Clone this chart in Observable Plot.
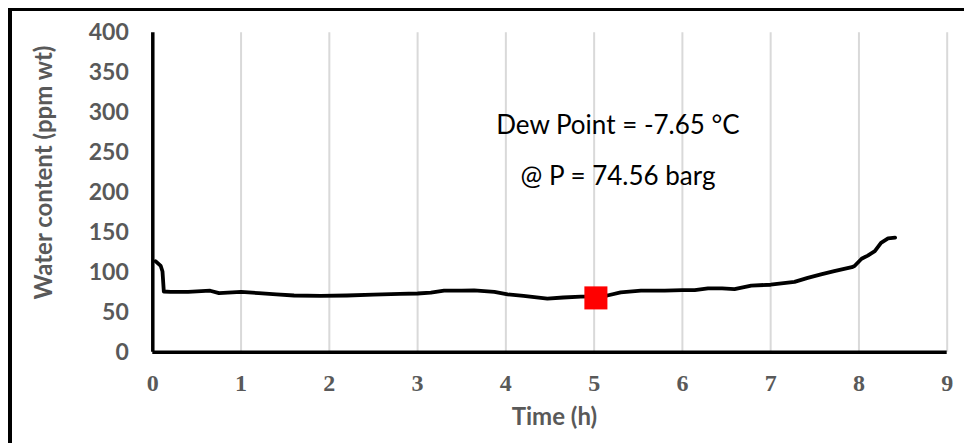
<!DOCTYPE html>
<html>
<head>
<meta charset="utf-8">
<script src="https://cdn.jsdelivr.net/npm/d3@7"></script>
<script src="https://cdn.jsdelivr.net/npm/@observablehq/plot@0.6"></script>
<style>
  html, body { margin: 0; padding: 0; background: #fff; }
  #wrap { position: relative; width: 964px; height: 443px; overflow: hidden; }
  #frame { position: absolute; left: 8px; top: 8px; width: 1000px; height: 500px;
           border-left: 4px solid #000; border-top: 3px solid #000; box-sizing: border-box; }
  #chart { position: absolute; left: 0; top: 0; }
</style>
</head>
<body>
<div id="wrap"><div id="frame"></div><div id="chart"></div></div>
<script>
// Time (h)
const time = [0.03,0.09,0.11,0.125,0.2,0.4,0.55,0.65,0.75,0.9,1.0,1.2,1.4,1.6,1.9,2.2,2.5,2.8,3.0,3.15,3.3,3.5,3.64,3.87,4.02,4.2,4.47,4.65,4.85,5.0,5.15,5.3,5.53,5.8,6.0,6.14,6.29,6.45,6.59,6.78,7.0,7.27,7.42,7.57,7.72,7.92,7.95,8.03,8.1,8.18,8.25,8.33,8.41];
// Water content (ppm wt)
const water = [114,108,101,76,75.5,75.5,76.5,77,74,75,75.5,74,72.5,71,70.5,71,72,73,73.5,74.5,77,77,77.5,75.5,72.5,70.5,67,68.5,69.5,70,71,75,77,77,77.7,77.7,80,80,79,83.5,84.5,88,93,97.4,101.5,106.5,108,117,121,126.6,137,142.6,143.5];
// Dew point marker
const markerTime = [5.02];
const markerWater = [68];
const xTicks = [0,1,2,3,4,5,6,7,8,9];
const yTicks = [0,50,100,150,200,250,300,350,400];
const annotation = ["Dew Point = -7.65 °C", "@ P = 74.56 barg"];

const series = time.map((t, i) => ({t, w: water[i]}));
const marker = markerTime.map((t, i) => ({t, w: markerWater[i]}));

const gray = "#595959";
const chart = Plot.plot({
  width: 964, height: 443,
  marginLeft: 152.3, marginRight: 17.3, marginTop: 32.3, marginBottom: 91.3,
  x: {domain: [0, 9]},
  y: {domain: [0, 400]},
  style: {background: "transparent", fontFamily: "Lato"},
  marks: [
    Plot.gridX(xTicks.slice(1), {stroke: "#d9d9d9", strokeOpacity: 1, strokeWidth: 2}),
    Plot.axisY(yTicks, {tickSize: 0, tickPadding: 24, label: null, fontSize: 23, fontWeight: "bold", fontFamily: "Lato", color: gray}),
    Plot.axisX(xTicks, {tickSize: 0, tickPadding: 22, label: null, fontSize: 24, fontWeight: "bold", fontFamily: "Liberation Serif", color: gray}),
    Plot.line(series, {x: "t", y: "w", stroke: "#000", strokeWidth: 3.8, strokeLinejoin: "round", strokeLinecap: "round"}),
    Plot.ruleX([0], {y1: 0, y2: 400, stroke: "#000", strokeWidth: 3.5}),
    Plot.ruleY([0], {x1: 0, x2: 9, stroke: "#000", strokeWidth: 3.5}),
    Plot.dot(marker, {x: "t", y: "w", symbol: "square", r: 13, fill: "#ff0000", stroke: null}),
    Plot.text([annotation[0]], {x: () => 5.27, y: () => 284, fontSize: 26, fontFamily: "Lato", fill: "#000"}),
    Plot.text([annotation[1]], {x: () => 5.27, y: () => 220, fontSize: 26, fontFamily: "Lato", fill: "#000"}),
    Plot.text(["Time (h)"], {x: () => 4.55, y: () => -82, fontSize: 24, fontWeight: "bold", fontFamily: "Lato", fill: gray}),
    Plot.text(["Water content (ppm wt)"], {x: () => -1.227, y: () => 225, rotate: -90, fontSize: 24, fontWeight: "bold", fontFamily: "Lato", fill: gray})
  ]
});
document.getElementById("chart").appendChild(chart);
</script>
</body>
</html>
